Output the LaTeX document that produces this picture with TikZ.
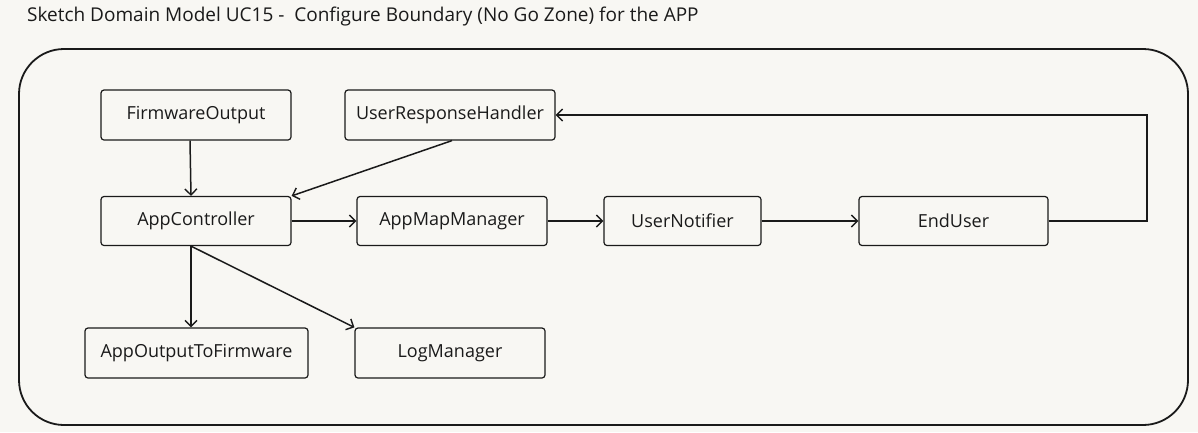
\documentclass[tikz,border=0pt]{standalone}
\usepackage{fontspec}
\setmainfont{Open Sans}
\usetikzlibrary{arrows.meta}
\definecolor{bg}{HTML}{F8F7F3}
\definecolor{ink}{HTML}{1A1A1A}
\tikzset{
  box/.style={draw=ink, line width=1.2pt, rounded corners=3pt, fill=bg, inner sep=0pt,
    font=\fontsize{18}{20}\selectfont, text=ink},
  conn/.style={draw=ink, line width=1.5pt, -{Straight Barb[length=6pt,width=12pt,line width=1.4pt]}},
}
\begin{document}
\begin{tikzpicture}[x=1pt,y=-1pt]
\fill[bg] (0,0) rectangle (1198,432);
\useasboundingbox (0,0) rectangle (1198,432);
\node[anchor=west, font=\fontsize{19}{21}\selectfont, text=ink, inner sep=0pt] (title) at (27,17) {Sketch Domain Model UC15 -\ \ Configure Boundary (No Go Zone) for the APP};
\draw[ink, line width=1.8pt, rounded corners=45pt] (19,49) rectangle (1188,425);
\node[box, minimum width=190pt, minimum height=50pt] (fw) at (196,115) {FirmwareOutput};
\node[box, minimum width=210pt, minimum height=50pt] (urh) at (450,115) {UserResponseHandler};
\node[box, minimum width=190pt, minimum height=49pt] (ac) at (196,221) {AppController};
\node[box, minimum width=190pt, minimum height=49pt] (amm) at (452,221) {AppMapManager};
\node[box, minimum width=157pt, minimum height=49pt] (un) at (682.5,221) {UserNotifier};
\node[box, minimum width=189pt, minimum height=49pt] (eu) at (953.5,221) {EndUser};
\node[box, minimum width=223pt, minimum height=50pt] (aof) at (196.5,353) {AppOutputToFirmware};
\node[box, minimum width=190pt, minimum height=50pt] (lm) at (450,353) {LogManager};
\coordinate (c1) at (1147,221);
\coordinate (c2) at (1147,115);
\draw[conn] ([xshift=-6pt]fw.south) -- ([xshift=-5pt]ac.north);
\draw[conn] ([xshift=2pt]urh.south) -- (ac.north east);
\draw[conn] (ac.east) -- (amm.west);
\draw[conn] (amm.east) -- (un.west);
\draw[conn] (un.east) -- (eu.west);
\draw[conn] (eu.east) -- (c1) -- (c2) -- (urh.east);
\draw[conn] ([xshift=-5pt]ac.south) -- ([xshift=-5.5pt]aof.north);
\draw[conn] ([xshift=-5pt]ac.south) -- (lm.north west);
\end{tikzpicture}
\end{document}
